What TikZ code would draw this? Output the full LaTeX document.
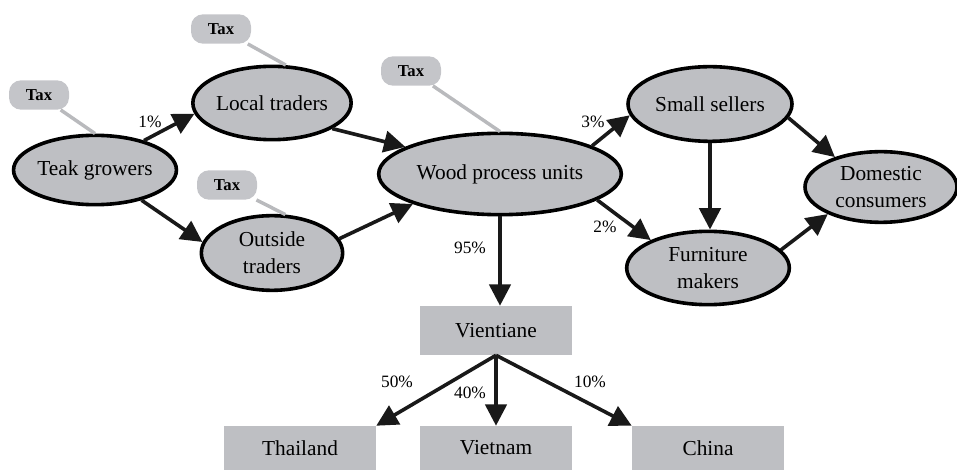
\documentclass[tikz,border=0pt]{standalone}
\usepackage{fontspec}
\setmainfont{Liberation Serif}
\usetikzlibrary{shapes.geometric,arrows.meta}
\definecolor{nodegray}{RGB}{190,191,195}
\definecolor{taxgray}{RGB}{196,197,201}
\definecolor{linegray}{RGB}{185,186,189}
\begin{document}
\begin{tikzpicture}[x=0.75pt, y=-0.75pt,
    actor/.style={ellipse, draw=black, line width=2.7pt, fill=nodegray, inner sep=0pt, align=center, font=\fontsize{16}{20}\selectfont},
    place/.style={rectangle, fill=nodegray, minimum width=114pt, inner sep=0pt, font=\fontsize{16}{20}\selectfont},
    tax/.style={rectangle, rounded corners=9pt, fill=taxgray, minimum width=45pt, minimum height=22pt, inner sep=0pt, font=\bfseries\fontsize{12.5}{14}\selectfont},
    arrow/.style={-{Triangle[length=16pt,width=16pt]}, line width=2.7pt, black!90},
    taxline/.style={line width=2.6pt, linegray},
    pct/.style={font=\fontsize{13}{15}\selectfont, inner sep=0pt},
]
\useasboundingbox (0,0) rectangle (957,470);

% Actors
\node[actor, minimum width=121pt, minimum height=52pt] (teak) at (95,170) {Teak growers};
\node[actor, minimum width=106pt, minimum height=55pt] (local) at (272,103) {Local traders};
\node[actor, minimum width=106pt, minimum height=56pt] (outside) at (272,253) {Outside\\traders};
\node[actor, minimum width=182pt, minimum height=61pt] (wood) at (500,174) {Wood process units};
\node[actor, minimum width=123pt, minimum height=56pt] (small) at (710,104) {Small sellers};
\node[actor, minimum width=122pt, minimum height=55pt] (furniture) at (708,268) {Furniture\\makers};
\node[actor, minimum width=114pt, minimum height=53pt] (domestic) at (881,187) {Domestic\\consumers};

% Destinations
\node[place, minimum height=36.75pt] (vien) at (496,330.5) {Vientiane};
\node[place, minimum height=33pt] (thai) at (300,448) {Thailand};
\node[place, minimum height=33pt] (viet) at (496,448) {Vietnam};
\node[place, minimum height=33pt] (china) at (708,448) {China};

% Tax points
\node[tax] (taxteak) at (39,95) {Tax};
\node[tax] (taxlocal) at (221,29) {Tax};
\node[tax] (taxoutside) at (227,185) {Tax};
\node[tax] (taxwood) at (411,71) {Tax};

\draw[taxline] (taxteak) -- (teak.north);
\draw[taxline] (taxlocal) -- (local.70);
\draw[taxline] (taxoutside) -- (outside.71);
\draw[taxline] (taxwood) -- (wood.north);

% Trade flows
\draw[arrow] (teak.31) -- (local.188);
\draw[arrow] (teak.-33) -- (outside.171);
\draw[arrow] (local.-23) -- (wood.164);
\draw[arrow] (outside.12) -- (wood.199);
\draw[arrow] (wood.17) -- (small.188);
\draw[arrow] (wood.-15) -- (furniture.154);
\draw[arrow] (small.south) -- (small.south |- furniture.north);
\draw[arrow] (small.-10) -- (domestic.147);
\draw[arrow] (furniture.14) -- (domestic.207);
\draw[arrow] (wood.south) -- (wood.south |- vien.north);
\draw[arrow] (vien.south) -- (thai.north east);
\draw[arrow] (vien.south) -- (viet.north);
\draw[arrow] (vien.south) -- (china.north west);

% Shares
\node[pct] (p1) at (150,122) {1\%};
\node[pct] (p3) at (593,122) {3\%};
\node[pct] (p2) at (605,227) {2\%};
\node[pct] (p95) at (470,248) {95\%};
\node[pct] (p50) at (397,382) {50\%};
\node[pct] (p40) at (470,393) {40\%};
\node[pct] (p10) at (590,382) {10\%};
\end{tikzpicture}
\end{document}
